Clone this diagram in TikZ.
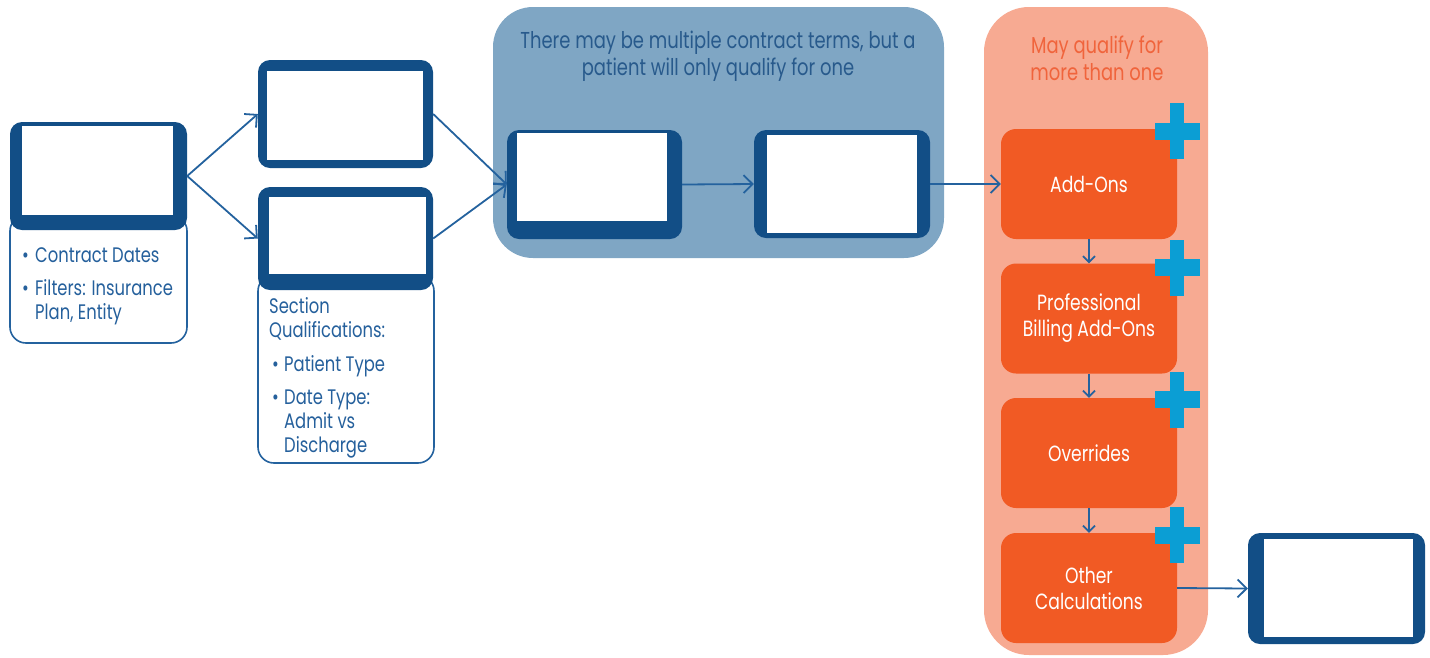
\documentclass[tikz,border=0pt]{standalone}
\usepackage{fontspec}
\setmainfont[FakeStretch=0.78]{Poppins}
\usetikzlibrary{arrows.meta}
\definecolor{frameblue}{RGB}{18,78,134}
\definecolor{linkblue}{RGB}{36,98,158}
\definecolor{textblue}{RGB}{37,96,156}
\definecolor{groupblue}{RGB}{127,166,196}
\definecolor{titleblue}{RGB}{40,90,140}
\definecolor{grouporange}{RGB}{247,170,146}
\definecolor{boxorange}{RGB}{241,90,36}
\definecolor{titleorange}{RGB}{240,100,60}
\definecolor{plusblue}{RGB}{11,158,212}
\begin{document}
\begin{tikzpicture}[x=1pt,y=-1pt,
  frame/.style={fill=frameblue, rounded corners=12pt, inner sep=0pt, draw=none},
  window/.style={fill=white, inner sep=0pt, draw=none},
  note/.style={draw=linkblue, line width=1.6pt, fill=white, rounded corners=16pt, inner sep=0pt},
  notetext/.style={text=textblue, font=\fontsize{21}{24}\selectfont, align=left, inner sep=0pt, anchor=north west},
  link/.style={draw=linkblue, line width=1.8pt, -{Straight Barb[length=9pt,width=18pt,line width=1.8pt]}},
  downlink/.style={draw=linkblue, line width=1.8pt, -{Straight Barb[length=6pt,width=12pt,line width=1.8pt]}},
  stage/.style={fill=boxorange, rounded corners=15pt, minimum width=176, minimum height=110, inner sep=0pt, text=white, align=center, font=\fontsize{22}{26}\selectfont},
  grouptitle/.style={align=center, font=\fontsize{23}{27}\selectfont, inner sep=0pt}
]
\useasboundingbox (0,0) rectangle (1430,657);

% groups
\node[fill=groupblue, rounded corners=40pt, minimum width=451, minimum height=251, inner sep=0pt] (grpblue) at (718.5,132.5) {};
\node[fill=grouporange, rounded corners=45pt, minimum width=224, minimum height=648, inner sep=0pt] (grporange) at (1096,331) {};
\node[grouptitle, text=titleblue] (bluetitle) at (718,56) {There may be multiple contract terms, but a\\patient will only qualify for one};
\node[grouptitle, text=titleorange] (orangetitle) at (1097,58.5) {May qualify for\\more than one};

% notes under frames
\node[note, minimum width=177, minimum height=128] (noteA) at (98.5,279) {};
\node[note, minimum width=176, minimum height=188] (noteB) at (346,369) {};
\node[notetext] (noteAtext) at (22,247) {\makebox[13pt][l]{\textbullet}Contract Dates\\[9pt]\makebox[13pt][l]{\textbullet}Filters: Insurance\\\hspace*{13pt}Plan, Entity};
\node[notetext] (noteBtext) at (269,297) {Section\\Qualifications:\\[10pt]\hspace*{3pt}\makebox[12pt][l]{\textbullet}Patient Type\\[9pt]\hspace*{3pt}\makebox[12pt][l]{\textbullet}Date Type:\\\hspace*{15pt}Admit vs\\\hspace*{15pt}Discharge};

% frames
\node[frame, minimum width=177, minimum height=108] (a) at (98.5,176) {};
\node[window, minimum width=151, minimum height=89] (aw) at (97.5,170.5) {};
\node[frame, minimum width=175, minimum height=108] (b1) at (345.5,114) {};
\node[window, minimum width=156, minimum height=89] (b1w) at (345,115.5) {};
\node[frame, minimum width=175, minimum height=103] (b2) at (345.5,238.5) {};
\node[window, minimum width=157, minimum height=77] (b2w) at (347.5,235.5) {};
\node[frame, minimum width=175, minimum height=109] (c1) at (594.5,184.5) {};
\node[window, minimum width=150, minimum height=88] (c1w) at (592,177) {};
\node[frame, minimum width=176, minimum height=108] (c2) at (842,184) {};
\node[window, minimum width=150, minimum height=98] (c2w) at (842,184) {};
\node[frame, minimum width=177, minimum height=111] (d) at (1336.5,588.5) {};
\node[window, minimum width=149, minimum height=98] (dw) at (1338.5,588) {};

% orange stages
\node[stage] (addons) at (1089,184) {Add-Ons};
\node[stage] (pro) at (1089,318.5) {Professional\\Billing Add-Ons};
\node[stage] (over) at (1089,453) {Overrides};
\node[stage] (other) at (1089,588) {Other\\Calculations};

% plus signs
\foreach \cy/\hy in {131/131.5, 267.5/267.5, 399.5/399.5, 535/535.5}{
  \fill[plusblue] (1170,\cy-28) rectangle (1184,\cy+28);
  \fill[plusblue] (1155,\hy-8.5) rectangle (1200,\hy+8.5);
}

% connectors
\draw[link] (a.east) -- (b1.west);
\draw[link] (a.east) -- (b2.west);
\draw[link] (b1.east) -- (c1.west);
\draw[link] (b2.east) -- (c1.west);
\draw[link] (c1.east) -- (c2.west);
\draw[link] (c2.east) -- (addons.west);
\draw[downlink] (addons.south) -- (pro.north);
\draw[downlink] (pro.south) -- (over.north);
\draw[downlink] (over.south) -- (other.north);
\draw[link] (other.east) -- (d.west);
\end{tikzpicture}
\end{document}
